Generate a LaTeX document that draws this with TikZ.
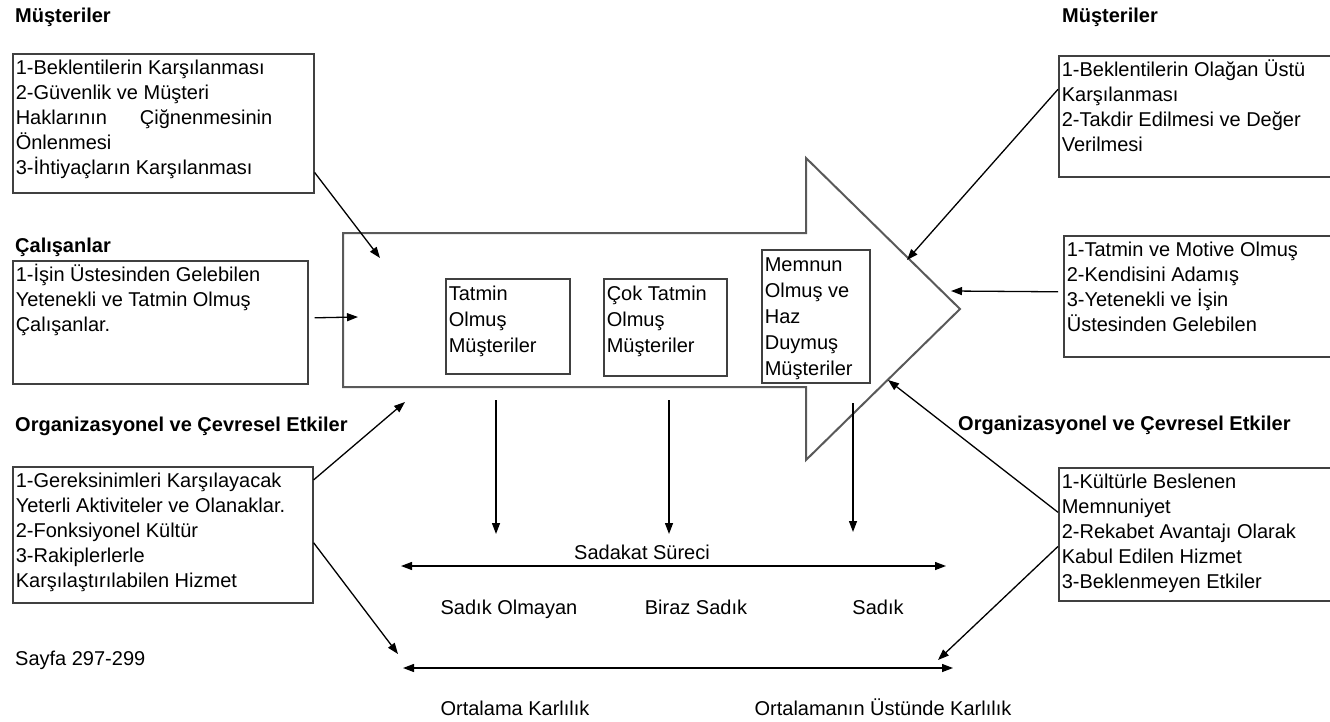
\documentclass[tikz,border=0pt]{standalone}
\usepackage{fontspec}
\setmainfont{Liberation Sans}
\usetikzlibrary{arrows.meta}

\tikzset{
  kutu/.style={draw=black!75, line width=1.6pt, anchor=north west, inner xsep=3pt, inner ysep=3pt, font=\fontsize{20}{25}\selectfont},
  ickutu/.style={kutu, font=\fontsize{20}{26}\selectfont},
  baslik/.style={anchor=west, inner sep=0pt, font=\fontsize{20}{24}\selectfont\bfseries},
  yazi/.style={anchor=base, inner sep=0pt, font=\fontsize{20}{24}\selectfont},
  ok/.style={-{Triangle[length=11pt,width=8pt]}, line width=1.3pt},
  ciftok/.style={{Triangle[length=11pt,width=8pt]}-{Triangle[length=11pt,width=8pt]}, line width=1.3pt},
}
\newcommand{\kutuyazi}[3]{\parbox[t][\dimexpr#2pt-6pt\relax][t]{\dimexpr#1pt-6pt\relax}{\raggedright\strut#3}}

\begin{document}
\begin{tikzpicture}[x=1pt,y=-1pt]
    \useasboundingbox (0,0) rectangle (1330,722);

    % basliklar
    \node[baslik] (musbas1) at (15,17) {Müşteriler};
    \node[baslik] (musbas2) at (1062,17) {Müşteriler};
    \node[baslik] (calbas) at (15,247) {Çalışanlar};
    \node[baslik] (orgbas1) at (15,426) {Organizasyonel ve Çevresel Etkiler};
    \node[baslik] (orgbas2) at (958,425) {Organizasyonel ve Çevresel Etkiler};

    % buyuk ok
    \draw[line width=2pt, draw=black!65] (343,233) -- (806,233) -- (806,158) -- (960,309) -- (806,460) -- (806,387) -- (343,387) -- cycle;

    \node[ickutu] (tatmin) at (445,278) {\kutuyazi{124}{95}{Tatmin\\Olmuş\\Müşteriler}};
    \node[ickutu] (coktatmin) at (603,278) {\kutuyazi{123}{97}{Çok Tatmin\\Olmuş\\Müşteriler}};
    \node[ickutu] (memnun) at (761,249) {\kutuyazi{108}{133}{Memnun\\Olmuş ve\\Haz\\Duymuş\\Müşteriler}};

    % sol kutular
    \node[kutu] (mus1) at (12,53) {\kutuyazi{301}{139}{1-Beklentilerin Karşılanması\\2-Güvenlik ve Müşteri\\Haklarının\hspace{33pt}Çiğnenmesinin\\Önlenmesi\\3-İhtiyaçların Karşılanması}};
    \node[kutu] (cal1) at (12,260) {\kutuyazi{295}{123}{1-İşin Üstesinden Gelebilen\\Yetenekli ve Tatmin Olmuş\\Çalışanlar.}};
    \node[kutu] (org1) at (12,466) {\kutuyazi{300}{136}{1-Gereksinimleri Karşılayacak\\Yeterli Aktiviteler ve Olanaklar.\\2-Fonksiyonel Kültür\\3-Rakiplerlerle\\Karşılaştırılabilen Hizmet}};

    % sag kutular
    \node[kutu] (mus2) at (1058,55) {\kutuyazi{276}{121}{1-Beklentilerin Olağan Üstü\\Karşılanması\\2-Takdir Edilmesi ve Değer\\Verilmesi}};
    \node[kutu] (cal2) at (1063,235) {\kutuyazi{271}{121}{1-Tatmin ve Motive Olmuş\\2-Kendisini Adamış\\3-Yetenekli ve İşin\\Üstesinden Gelebilen}};
    \node[kutu] (org2) at (1058,467) {\kutuyazi{276}{133}{1-Kültürle Beslenen\\Memnuniyet\\2-Rekabet Avantajı Olarak\\Kabul Edilen Hizmet\\3-Beklenmeyen Etkiler}};

    % ok uclari
    \coordinate (g1) at (380,258);
    \coordinate (g2) at (358,317);
    \coordinate (g3) at (405,402);
    \coordinate (g4) at (907,260);
    \coordinate (g5) at (951,291);
    \coordinate (g6) at (888,380);
    \coordinate (k3) at (398,654);
    \coordinate (k4) at (938,660);

    \draw[ok] (mus1.-18) -- (g1);
    \draw[ok] ([xshift=6pt,yshift=4.5pt]cal1.east) -- (g2);
    \draw[ok] (org1.20) -- (g3);
    \draw[ok] (org1.-3) -- (k3);
    \draw[ok] (mus2.169) -- (g4);
    \draw[ok] ([xshift=-5pt,yshift=4.5pt]cal2.west) -- (g5);
    \draw[ok] (org2.171) -- (g6);
    \draw[ok] (org2.185) -- (k4);

    % asagi oklar
    \coordinate (d1) at (496,400);
    \coordinate (d1u) at (496,534);
    \coordinate (d2) at (669,400);
    \coordinate (d2u) at (669,534);
    \coordinate (d3) at (853,403);
    \coordinate (d3u) at (853,532);
    \draw[ok] (d1) -- (d1u);
    \draw[ok] (d2) -- (d2u);
    \draw[ok] (d3) -- (d3u);

    % sadakat sureci
    \node[yazi] (sadakat) at (642,559) {Sadakat Süreci};
    \coordinate (s1) at (401,566);
    \coordinate (s2) at (946,566);
    \draw[ciftok] (s1) -- (s2);
    \node[yazi] (sadikolm) at (509,614) {Sadık Olmayan};
    \node[yazi] (biraz) at (696,614) {Biraz Sadık};
    \node[yazi] (sadik) at (878,614) {Sadık};

    % karlilik
    \coordinate (k1) at (403,668);
    \coordinate (k2) at (953,668);
    \draw[ciftok] (k1) -- (k2);
    \node[yazi] (ortkar) at (515,715) {Ortalama Karlılık};
    \node[yazi] (ustkar) at (883,715) {Ortalamanın Üstünde Karlılık};

    \node[yazi, anchor=base west] (sayfa) at (15,665) {Sayfa 297-299};
\end{tikzpicture}
\end{document}
